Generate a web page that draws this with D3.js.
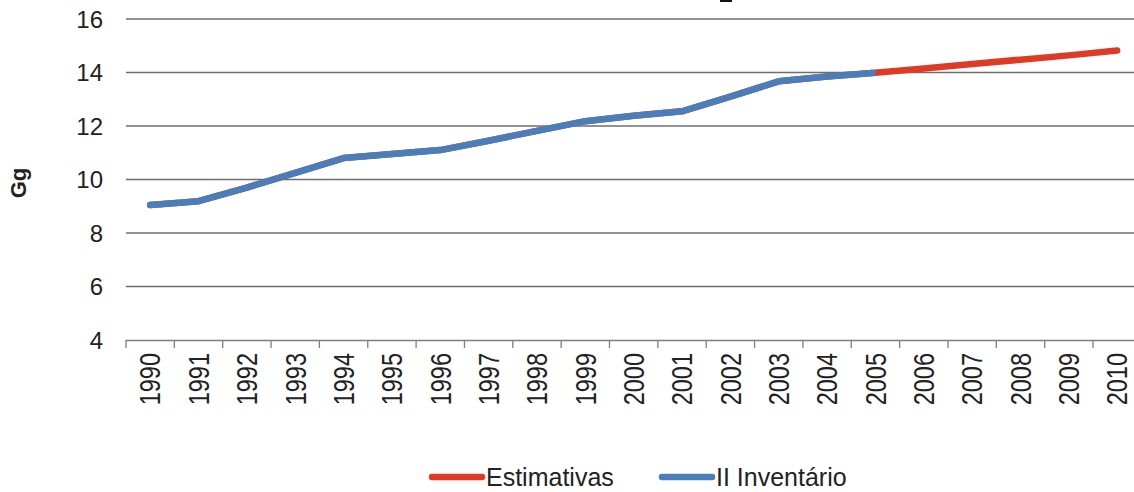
<!DOCTYPE html>
<html>
<head>
<meta charset="utf-8">
<script src="https://cdn.jsdelivr.net/npm/d3@7"></script>
<style>
  html, body { margin: 0; padding: 0; background: #fff; }
  svg { display: block; font-family: "Liberation Sans", Arial, sans-serif; }
</style>
</head>
<body>
<svg id="chart" width="1134" height="492"></svg>
<script>
const years = [1990,1991,1992,1993,1994,1995,1996,1997,1998,1999,2000,2001,2002,2003,2004,2005,2006,2007,2008,2009,2010];
const inventario = [9.05,9.19,9.7,10.25,10.8,10.95,11.1,11.45,11.82,12.18,12.38,12.55,13.1,13.67,13.85,13.99];
const estimativas = [9.05,9.19,9.7,10.25,10.8,10.95,11.1,11.45,11.82,12.18,12.38,12.55,13.1,13.67,13.85,13.99,14.15,14.32,14.48,14.64,14.82];
const yTicks = [4,6,8,10,12,14,16];
const seriesNames = ["Estimativas","II Inventário"];
const colors = ["#DD3B25","#4A7EBB"];

const svg = d3.select("#chart");
const left = 126, bandW = 48.35;
const x = d3.scaleBand().domain(years).range([left, left + bandW * years.length]).paddingInner(0).paddingOuter(0);
const y = d3.scaleLinear().domain([4,16]).range([340,19]);

// fragment of the cut-off title (bottom of a subscript glyph)
svg.append("rect").attr("x", 720).attr("y", 0).attr("width", 12).attr("height", 2).attr("fill", "#111");

// gridlines
svg.append("g").selectAll("line").data(yTicks.filter(d => d > 4)).join("line")
  .attr("x1", left).attr("x2", 1134)
  .attr("y1", d => y(d)).attr("y2", d => y(d))
  .attr("stroke", "#6e6e6e").attr("stroke-width", 1.3);

// y axis labels
svg.append("g").selectAll("text").data(yTicks).join("text")
  .attr("x", 103).attr("y", d => y(d)).attr("dy", "0.36em")
  .attr("text-anchor", "end").attr("font-size", 24).attr("fill", "#222")
  .text(d => d);

// x axis
const xAxis = d3.axisBottom(x).tickSize(8).tickFormat(d => d);
const gx = svg.append("g").attr("transform", "translate(0,340)").call(xAxis);
gx.select(".domain").attr("stroke", "#7f7f7f").attr("stroke-width", 1.3)
  .attr("d", `M${left},0.5H1134`);
gx.selectAll(".tick line").remove();
gx.append("g").selectAll("line").data(d3.range(years.length + 1)).join("line")
  .attr("x1", i => left + i * bandW).attr("x2", i => left + i * bandW)
  .attr("y1", 0).attr("y2", 8).attr("stroke", "#7f7f7f").attr("stroke-width", 1.3);
gx.selectAll(".tick text")
  .attr("font-size", 23.5).attr("fill", "#222").attr("font-family", "Liberation Sans, Arial, sans-serif")
  .attr("transform", "rotate(-90) scale(1,1.22)")
  .attr("text-anchor", "end")
  .attr("x", -13).attr("y", 0).attr("dy", "0.36em");

// y title
svg.append("text").attr("transform", "translate(26,183) rotate(-90)")
  .attr("text-anchor", "middle").attr("font-weight", "bold").attr("font-size", 22).attr("fill", "#222")
  .text("Gg");

// lines
const line = d3.line().x((d,i) => x(years[i]) + x.bandwidth()/2).y(d => y(d));
svg.append("path").datum(estimativas).attr("d", line)
  .attr("fill","none").attr("stroke", colors[0]).attr("stroke-width", 6.5)
  .attr("stroke-linecap","round").attr("stroke-linejoin","round");
svg.append("path").datum(inventario).attr("d", line)
  .attr("fill","none").attr("stroke", colors[1]).attr("stroke-width", 6.5)
  .attr("stroke-linecap","butt").attr("stroke-linejoin","round");
svg.append("circle").attr("cx", x(years[0]) + x.bandwidth()/2).attr("cy", y(inventario[0]))
  .attr("r", 3.25).attr("fill", colors[1]);

// legend
const legX = [432, 662];
const lg = svg.append("g").selectAll("g").data(seriesNames).join("g")
  .attr("transform", (d,i) => `translate(${legX[i]},477)`);
lg.append("line").attr("x1", 0).attr("x2", 50).attr("y1", 0).attr("y2", 0)
  .attr("stroke", (d,i) => colors[i]).attr("stroke-width", 6.5).attr("stroke-linecap", "round");
lg.append("text").attr("x", 54).attr("y", 0).attr("dy", "0.36em")
  .attr("font-size", 25).attr("fill", "#222").text(d => d);
</script>
</body>
</html>
